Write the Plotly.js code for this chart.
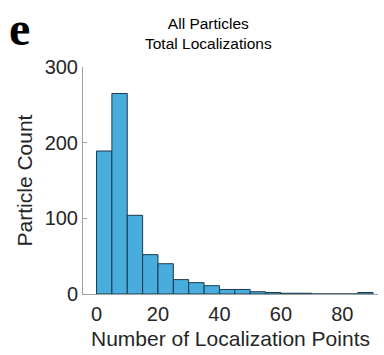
<!DOCTYPE html>
<html>
<head>
<meta charset="utf-8">
<script src="https://cdn.plot.ly/plotly-3.0.1.min.js"></script>
<style>html,body{margin:0;padding:0;background:#fff;}#chart{width:384px;height:355px;}</style>
</head>
<body>
<div id="chart"></div>
<script>
const binCenters = [2.5, 7.5, 12.5, 17.5, 22.5, 27.5, 32.5, 37.5, 42.5, 47.5, 52.5, 57.5, 62.5, 67.5, 72.5, 77.5, 82.5, 87.5];
const counts     = [189, 265, 104, 52, 40, 19, 15, 11, 6, 6, 3, 2, 1, 1, 0, 0, 0, 2];
const xTicks = [0, 20, 40, 60, 80];
const yTicks = [0, 100, 200, 300];

const trace = {
  type: 'bar',
  x: binCenters,
  y: counts,
  width: 5,
  marker: {color: 'rgb(72,172,221)', line: {color: 'rgb(28,58,78)', width: 1}},
  hoverinfo: 'skip'
};

const font = {family: 'Liberation Sans, Arial, sans-serif', color: '#262626'};

const layout = {
  width: 384, height: 355,
  margin: {l: 83, r: 6, t: 67, b: 61},
  paper_bgcolor: '#fff', plot_bgcolor: '#fff',
  showlegend: false,
  bargap: 0,
  font: font,
  xaxis: {
    range: [-4.4, 91.6],
    tickvals: xTicks, ticktext: xTicks.map(String),
    showgrid: false, zeroline: false,
    showline: true, linecolor: '#a0a0a0', linewidth: 1,
    ticks: '', ticklabelstandoff: 2,
    tickfont: {family: font.family, size: 20, color: '#262626'},
    title: {text: 'Number of Localization Points', font: {family: font.family, size: 21, color: '#262626'}, standoff: 7}
  },
  yaxis: {
    range: [0, 300],
    tickvals: yTicks, ticktext: yTicks.map(String),
    showgrid: false, zeroline: false,
    showline: true, linecolor: '#a0a0a0', linewidth: 1,
    ticks: 'inside', ticklen: 4, tickcolor: '#a0a0a0',
    tickfont: {family: font.family, size: 20, color: '#262626'},
    title: {text: 'Particle Count', font: {family: font.family, size: 21, color: '#262626'}, standoff: 6}
  },
  annotations: [
    {text: 'All Particles<br>Total Localizations', xref: 'paper', yref: 'paper',
     x: (208 - 83) / (384 - 83 - 6), y: 1, yanchor: 'bottom', yshift: 13, xanchor: 'center', showarrow: false,
     font: {family: font.family, size: 15.5, color: '#000'}},
    {text: '<b>e</b>', xref: 'paper', yref: 'paper', x: 0, xshift: -83 + 7, y: 1, yshift: 10,
     xanchor: 'left', yanchor: 'bottom', showarrow: false,
     font: {family: 'Liberation Serif, Times New Roman, serif', size: 48, color: '#000'}}
  ]
};

Plotly.newPlot('chart', [trace], layout, {displayModeBar: false, staticPlot: true});
</script>
</body>
</html>
